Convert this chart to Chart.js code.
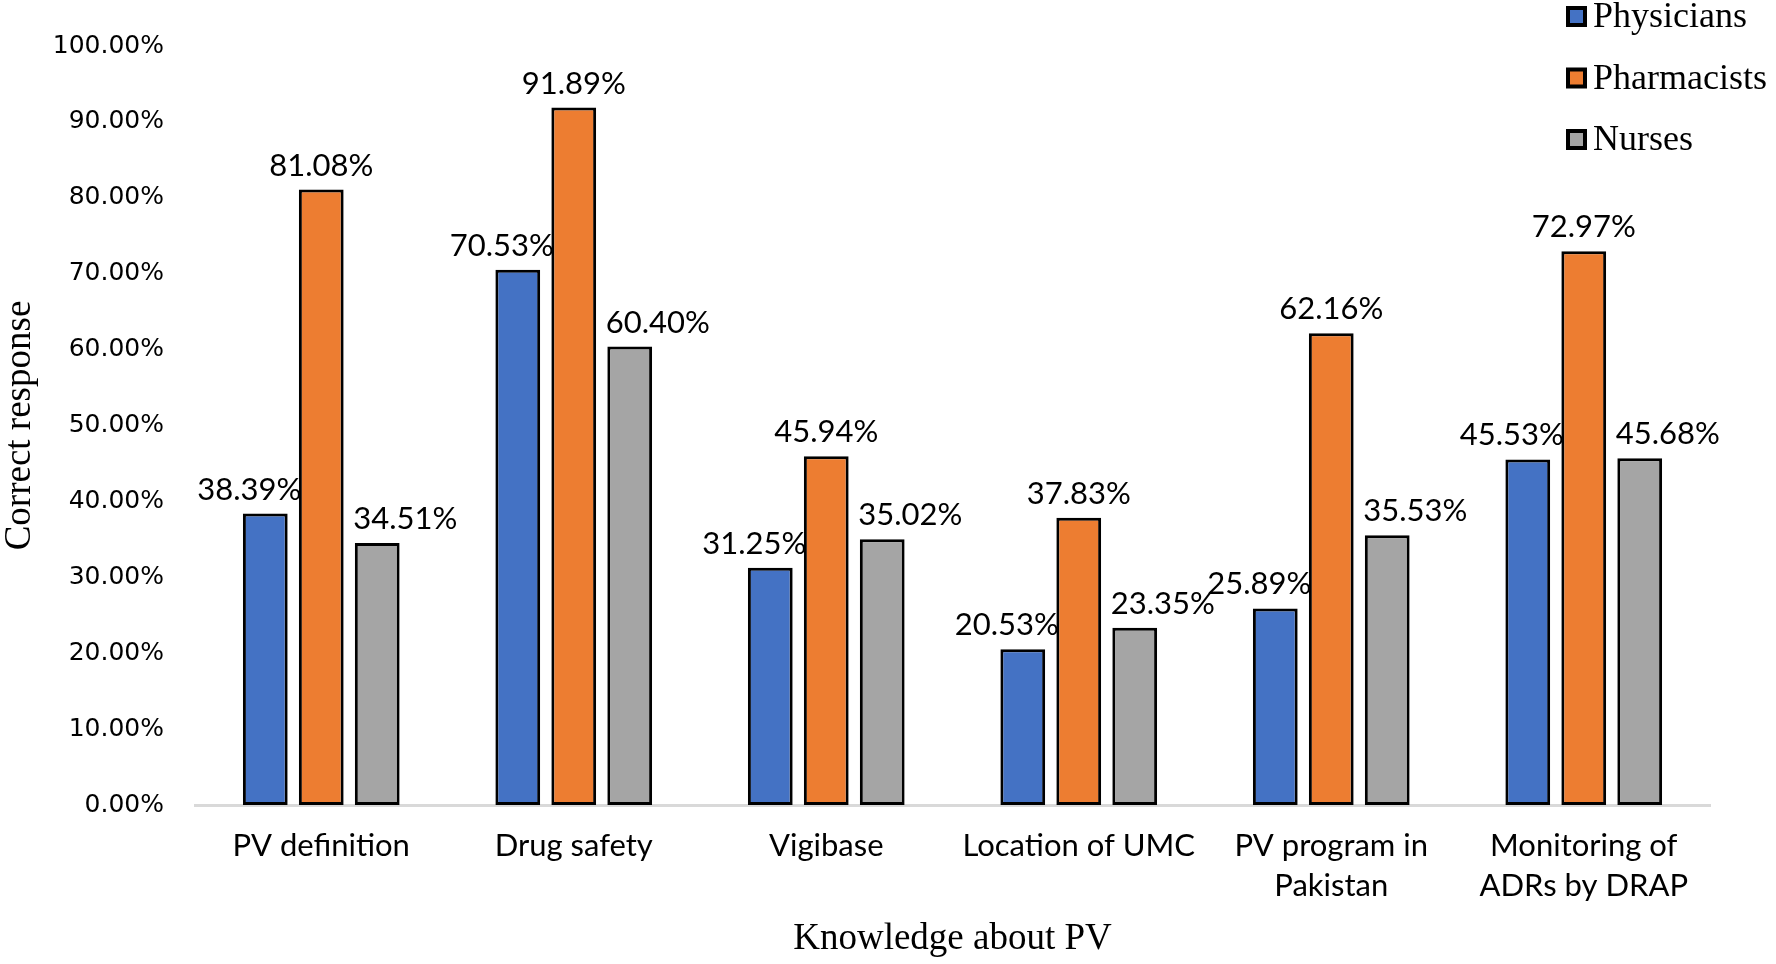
<!DOCTYPE html>
<html>
<head>
<meta charset="utf-8">
<script src="https://cdn.jsdelivr.net/npm/chart.js@4"></script>
<style>
  body { margin: 0; background: #fff; }
  #wrap { width: 1776px; height: 964px; }
</style>
</head>
<body>
<div id="wrap"><canvas id="pvChart"></canvas></div>
<script>
// categories and series
const categories = [
  'PV definition',
  'Drug safety',
  'Vigibase',
  'Location of UMC',
  ['PV program in', 'Pakistan'],
  ['Monitoring of', 'ADRs by DRAP']
];
const physicians  = [38.39, 70.53, 31.25, 20.53, 25.89, 45.53];
const pharmacists = [81.08, 91.89, 45.94, 37.83, 62.16, 72.97];
const nurses      = [34.51, 60.40, 35.02, 23.35, 35.53, 45.68];
const seriesNames = ['Physicians', 'Pharmacists', 'Nurses'];

// value labels above bars, nudged a bit like in Excel
const barLabels = {
  id: 'barLabels',
  afterDatasetsDraw(chart) {
    const ctx = chart.ctx;
    const shifts = [-16, 0, 28];
    ctx.save();
    ctx.font = '31px Lato';
    ctx.fillStyle = '#000';
    ctx.textAlign = 'center';
    ctx.textBaseline = 'alphabetic';
    chart.data.datasets.forEach((ds, i) => {
      chart.getDatasetMeta(i).data.forEach((bar, j) => {
        ctx.fillText(ds.data[j].toFixed(2) + '%', bar.x + shifts[i], bar.y - 14);
      });
    });
    ctx.restore();
  }
};

// legend in the top right corner, over the plot
const cornerLegend = {
  id: 'cornerLegend',
  afterDraw(chart) {
    const ctx = chart.ctx;
    ctx.save();
    ctx.font = '36px "Liberation Serif"';
    ctx.textBaseline = 'middle';
    chart.data.datasets.forEach((ds, i) => {
      const y = 16 + i * 61.5;
      ctx.fillStyle = '#000';
      ctx.fillRect(1566, y - 10, 21, 21);
      ctx.fillStyle = ds.backgroundColor;
      ctx.fillRect(1570, y - 6, 13, 13);
      ctx.fillStyle = '#000';
      ctx.fillText(ds.label, 1593, y + 2);
    });
    ctx.restore();
  }
};

new Chart(document.getElementById('pvChart'), {
  type: 'bar',
  data: {
    labels: categories,
    datasets: [
      { label: seriesNames[0], data: physicians,  backgroundColor: '#4472C4' },
      { label: seriesNames[1], data: pharmacists, backgroundColor: '#ED7D31' },
      { label: seriesNames[2], data: nurses,      backgroundColor: '#A5A5A5' }
    ]
  },
  options: {
    responsive: true,
    maintainAspectRatio: false,
    animation: false,
    layout: { padding: { top: 43, right: 66, left: 0, bottom: 0 } },
    datasets: {
      bar: {
        borderColor: '#000',
        borderWidth: 3,
        borderSkipped: false,
        categoryPercentage: 0.665,
        barPercentage: 0.8
      }
    },
    plugins: {
      legend: { display: false },
      tooltip: { enabled: false }
    },
    scales: {
      y: {
        min: 0,
        max: 100,
        afterFit(scale) { scale.width = 195; },
        grid: { display: false, drawTicks: false },
        border: { display: false },
        ticks: {
          stepSize: 10,
          padding: 31,
          color: '#000',
          font: { family: 'DejaVu Sans', size: 25 },
          callback: v => v.toFixed(2) + '%'
        },
        title: {
          display: true,
          text: 'Correct response',
          color: '#000',
          padding: { top: 0, bottom: 0 },
          font: { family: 'Liberation Serif', size: 37, lineHeight: 1.1 }
        }
      },
      x: {
        afterFit(scale) { scale.height = 159; },
        grid: { display: false, drawTicks: false },
        border: { display: true, color: '#D9D9D9', width: 3 },
        ticks: {
          padding: 21,
          color: '#000',
          maxRotation: 0,
          font: { family: 'Lato', size: 31, lineHeight: 1.3 }
        },
        title: {
          display: true,
          text: 'Knowledge about PV',
          color: '#000',
          padding: { top: 0, bottom: 3 },
          font: { family: 'Liberation Serif', size: 37 }
        }
      }
    }
  },
  plugins: [barLabels, cornerLegend]
});
</script>
</body>
</html>
